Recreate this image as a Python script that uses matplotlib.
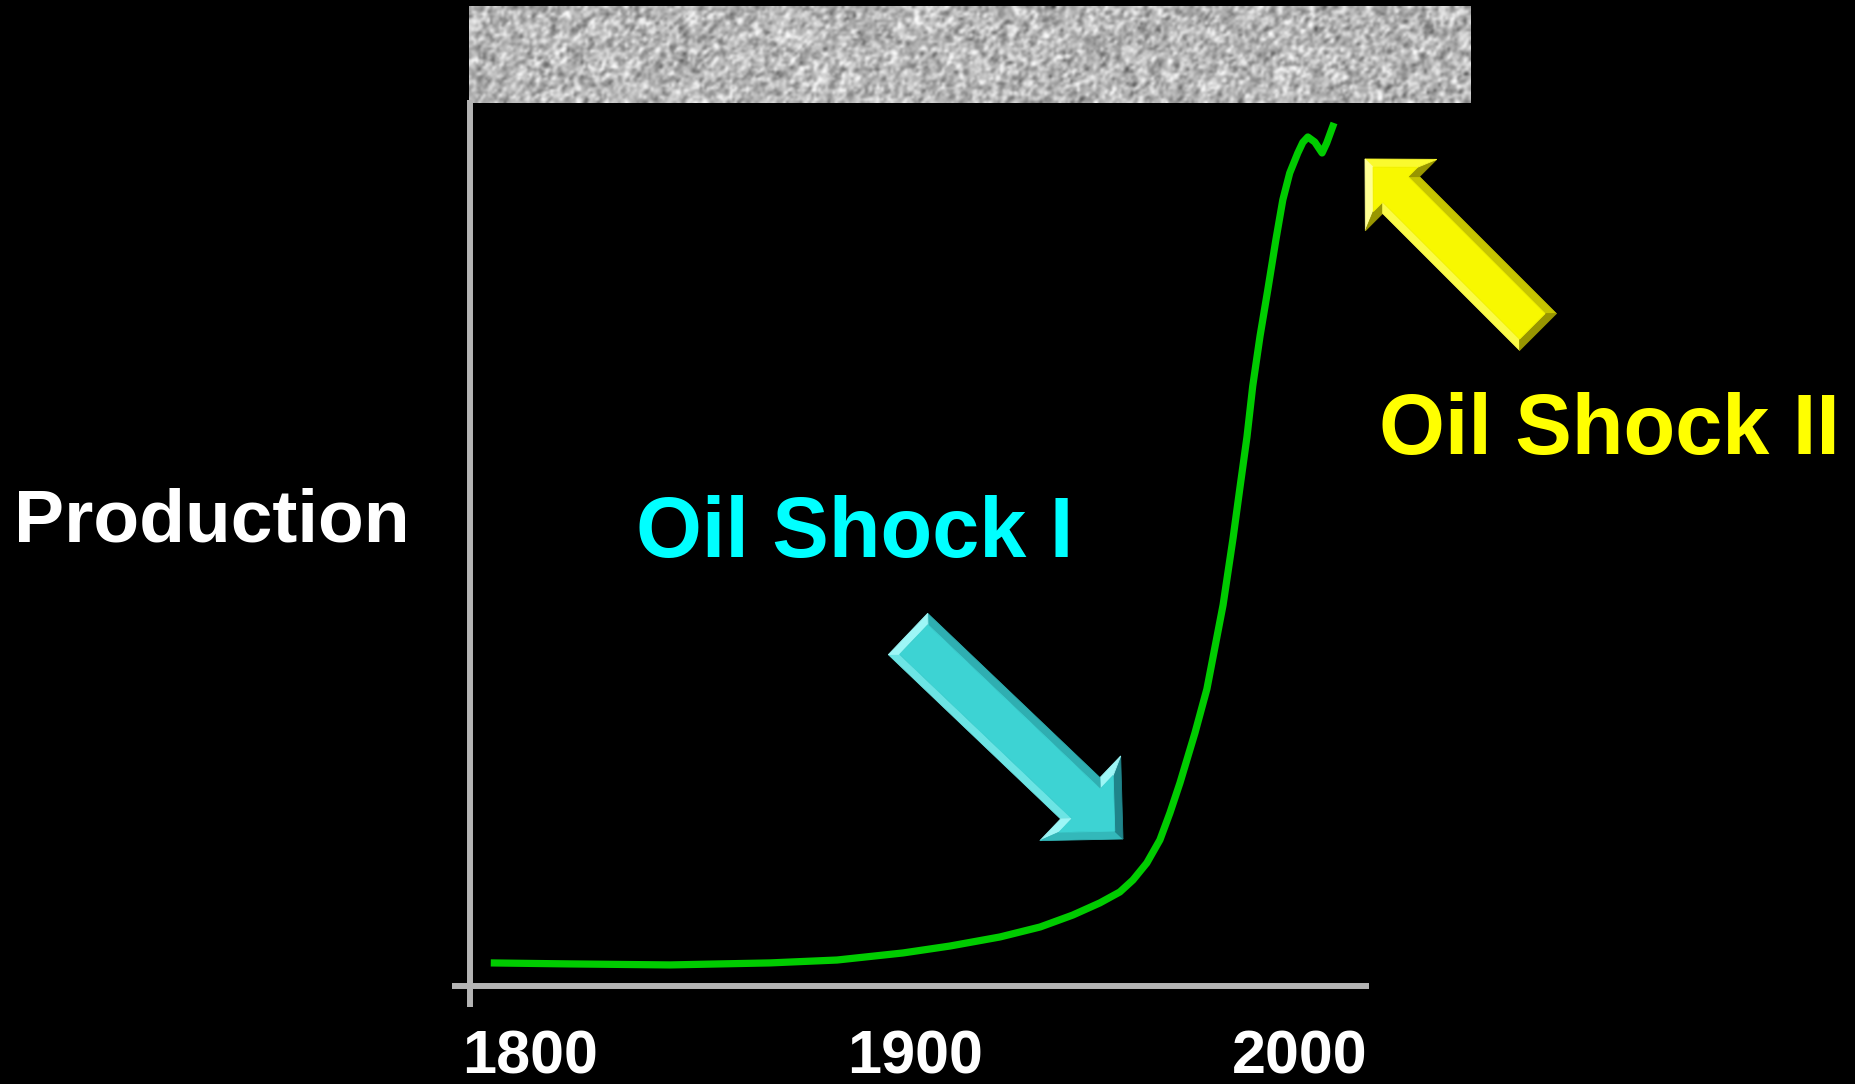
import numpy as np
import matplotlib
matplotlib.use("Agg")
import matplotlib.pyplot as plt
from matplotlib.patches import Polygon

plt.rcParams['font.family'] = ['Liberation Sans', 'DejaVu Sans']
plt.rcParams['font.weight'] = 'bold'

# world oil production, stylised (arbitrary units)
years = [1789.9, 1810.5, 1836.4, 1862.4, 1879.8, 1896.9, 1909.1, 1922.1,
         1932.5, 1941.0, 1948.0, 1953.2, 1956.6, 1960.2, 1963.6, 1966.2,
         1968.8, 1972.7, 1975.8, 1980.0, 1982.6, 1984.4, 1986.2, 1987.7,
         1989.6, 1991.6, 1993.7, 1995.5, 1997.3, 1999.4, 2000.7, 2002.0,
         2003.8, 2005.7, 2006.9, 2008.8]
production = [1.83, 1.75, 1.67, 1.83, 2.06, 2.62, 3.17, 3.89,
              4.68, 5.63, 6.59, 7.46, 8.41, 9.76, 11.59, 13.73,
              16.11, 20.08, 23.57, 30.24, 35.56, 39.60, 43.57, 47.62,
              51.59, 55.24, 59.21, 62.38, 64.52, 66.11, 66.95, 67.38,
              66.98, 66.11, 66.90, 68.49]

tick_years = [1800, 1900, 2000]
tick_labels = ["1800", "1900", "2000"]

W, H = 1856, 1084
fig = plt.figure(figsize=(W / 100, H / 100), dpi=100, facecolor='black')

# pixel-space layer for the decorations (band, arrows, captions)
deco = fig.add_axes([0, 0, 1, 1])
deco.set_zorder(0)
deco.axis('off')

# granite strip along the top
rng = np.random.default_rng(7)
grain = rng.normal(size=(42, 430))
grain = (grain + np.roll(grain, 1, 0) + np.roll(grain, 1, 1)) / 3.0
gray = np.clip(0.72 + 0.13 * grain / grain.std(), 0, 1)
deco.imshow(gray, cmap='gray', vmin=0, vmax=1, extent=(469, 1471, 103, 6),
            interpolation='bicubic', aspect='auto')
deco.set_xlim(0, W)
deco.set_ylim(H, 0)


def mix(c1, c2, t):
    c1 = np.array(matplotlib.colors.to_rgb(c1))
    c2 = np.array(matplotlib.colors.to_rgb(c2))
    return tuple(c1 + (c2 - c1) * t)


def inset(pts, b):
    n = len(pts)
    area = 0.5 * sum(pts[i][0] * pts[(i + 1) % n][1] - pts[(i + 1) % n][0] * pts[i][1] for i in range(n))
    sign = 1 if area > 0 else -1
    lines = []
    for i in range(n):
        a, c = pts[i], pts[(i + 1) % n]
        e = (c - a) / np.hypot(*(c - a))
        out = sign * np.array([e[1], -e[0]])
        lines.append((a - out * b, e, out))
    inner = []
    for i in range(n):
        p1, e1, _ = lines[i - 1]
        p2, e2, _ = lines[i]
        t, s = np.linalg.solve(np.array([e1, -e2]).T, p2 - p1)
        inner.append(p1 + t * e1)
    return np.array(inner), [l[2] for l in lines]


def block_arrow(ax, tail, tip, shaft_w, head_w, head_len, base, light, dark, bev=8):
    tail, tip = np.array(tail, float), np.array(tip, float)
    u = (tip - tail) / np.hypot(*(tip - tail))
    nrm = np.array([-u[1], u[0]])
    neck = tip - u * head_len
    pts = np.array([tail + nrm * shaft_w / 2, neck + nrm * shaft_w / 2,
                    neck + nrm * head_w / 2, tip, neck - nrm * head_w / 2,
                    neck - nrm * shaft_w / 2, tail - nrm * shaft_w / 2])
    inner, outs = inset(pts, bev)
    lamp = np.array([-0.95, -0.3])
    lamp = lamp / np.hypot(*lamp)
    n = len(pts)
    for i in range(n):
        j = (i + 1) % n
        shade = float(np.dot(outs[i], lamp))
        col = mix(base, light, shade) if shade > 0 else mix(base, dark, -shade)
        ax.add_patch(Polygon([pts[i], pts[j], inner[j], inner[i]], closed=True,
                             facecolor=col, edgecolor=col, lw=0.6))
    ax.add_patch(Polygon(inner, closed=True, facecolor=base, edgecolor=base, lw=0.6))


block_arrow(deco, (908, 634), (1123, 839), 57, 117, 59,
            '#3dd3d3', '#a8fafa', '#1d7f86')
block_arrow(deco, (1538, 332), (1365, 159), 52, 101, 51,
            '#f8f800', '#ffff9a', '#8c8a00')

deco.text(14, 542, "Production", color='white', fontsize=54,
          fontweight='bold', ha='left', va='baseline')
deco.text(636, 557, "Oil Shock I", color='#00ffff', fontsize=61,
          fontweight='bold', ha='left', va='baseline')
deco.text(1379, 454, "Oil Shock II", color='#ffff00', fontsize=61,
          fontweight='bold', ha='left', va='baseline')

# data axes
ax = fig.add_axes([0, 0, 1, 1])
ax.set_zorder(1)
ax.patch.set_alpha(0)
ax.set_xlim(1662.5, 2144.3)
ax.set_ylim(-7.78, 78.25)

ax.plot(years, production, color='#00cc00', lw=5.2,
        solid_capstyle='butt', solid_joinstyle='round')

for side in ['top', 'right']:
    ax.spines[side].set_visible(False)
ax.spines['left'].set_position(('data', 1784.5))
ax.spines['left'].set_bounds(-1.67, 70.3)
ax.spines['bottom'].set_position(('data', 0))
ax.spines['bottom'].set_bounds(1779.8, 2017.8)
for side in ['left', 'bottom']:
    ax.spines[side].set_color('#b4b4b4')
    ax.spines[side].set_linewidth(4.3)
    ax.spines[side].set_capstyle('butt')

ax.set_yticks([])
ax.set_xticks(tick_years)
ax.set_xticklabels(tick_labels)
ax.tick_params(axis='x', length=0, pad=31, labelsize=44, labelcolor='white')
for lbl in ax.get_xticklabels():
    lbl.set_fontweight('bold')

fig.savefig("out.png", dpi=100, facecolor='black')
